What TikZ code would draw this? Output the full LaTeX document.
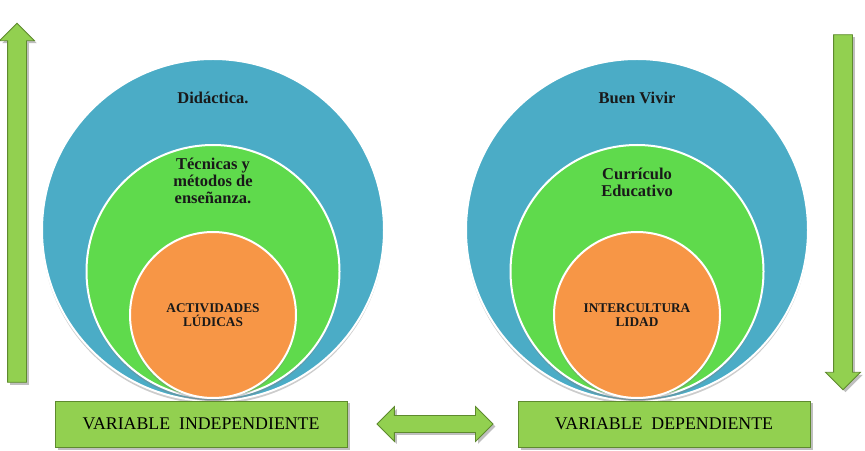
\documentclass[tikz,border=0pt]{standalone}
\usepackage{fontspec}
\setmainfont{Liberation Serif}
\usepackage{xcolor}
\usepackage{tikz}
\usetikzlibrary{positioning, shapes.arrows, shadows}
\definecolor{ringblue}{HTML}{4BACC6}
\definecolor{ringgreen}{HTML}{5FDA4C}
\definecolor{coreorange}{HTML}{F79646}
\definecolor{leafgreen}{HTML}{92D050}
\definecolor{leafedge}{HTML}{5E8A2E}

\begin{document}
\begin{tikzpicture}[x=1pt, y=1pt,
  ring/.style={circle, draw=white, line width=2pt, inner sep=0pt,
    drop shadow={shadow xshift=0pt, shadow yshift=-3pt, opacity=0.4}},
  lbl/.style={inner sep=0pt, align=center, text=black!90, font=\bfseries\fontsize{16.5}{17}\selectfont},
  corelbl/.style={align=center, text=black!90, font=\bfseries\fontsize{13.3}{14}\selectfont},
  varbox/.style={rectangle, draw=leafedge, fill=leafgreen, line width=0.8pt, minimum width=292pt, minimum height=46pt,
    font=\fontsize{17.8}{20}\selectfont, drop shadow={shadow xshift=2.5pt, shadow yshift=-2.5pt, opacity=0.5}},
  bigarrow/.style={draw=leafedge, fill=leafgreen, line width=0.8pt,
    drop shadow={shadow xshift=2.5pt, shadow yshift=-2.5pt, opacity=0.5}}
]
  \useasboundingbox (0,0) rectangle (865,450);

  % left target
  \node[ring, fill=ringblue, minimum size=342pt] (outerL) at (213,220) {};
  \node[ring, fill=ringgreen, minimum size=253pt, anchor=south] (midL) at ([yshift=3pt]outerL.south) {};
  \node[ring, fill=coreorange, minimum size=166pt, anchor=south, corelbl] (coreL) at (midL.south) {ACTIVIDADES\\LÚDICAS};
  \node[lbl, below=34pt of outerL.north] (didL) {Didáctica.};
  \node[lbl, below=14pt of midL.north] (tecL) {Técnicas y\\métodos de\\enseñanza.};

  % right target
  \node[ring, fill=ringblue, minimum size=342pt] (outerR) at (637,220) {};
  \node[ring, fill=ringgreen, minimum size=253pt, anchor=south] (midR) at ([yshift=3pt]outerR.south) {};
  \node[ring, fill=coreorange, minimum size=166pt, anchor=south, corelbl] (coreR) at (midR.south) {INTERCULTURA\\LIDAD};
  \node[lbl, below=34pt of outerR.north] (buenR) {Buen Vivir};
  \node[lbl, below=24pt of midR.north] (curR) {Currículo\\Educativo};

  % variables
  \node[varbox] (indep) at (201,26) {VARIABLE\ \ INDEPENDIENTE};
  \node[varbox] (dep) at (664,26) {VARIABLE\ \ DEPENDIENTE};
  \node[bigarrow, double arrow, inner sep=8pt, double arrow head extend=9pt, minimum height=116pt,
    anchor=west, right=29pt of indep] (link) {};

  % side arrows
  \node[bigarrow, single arrow, shape border rotate=90, inner sep=9pt, single arrow head extend=8pt,
    minimum height=359pt] (upA) at (17,242.5) {};
  \node[bigarrow, single arrow, shape border rotate=270, inner sep=9pt, single arrow head extend=8pt,
    minimum height=355pt] (downA) at (843,242.5) {};
\end{tikzpicture}
\end{document}
